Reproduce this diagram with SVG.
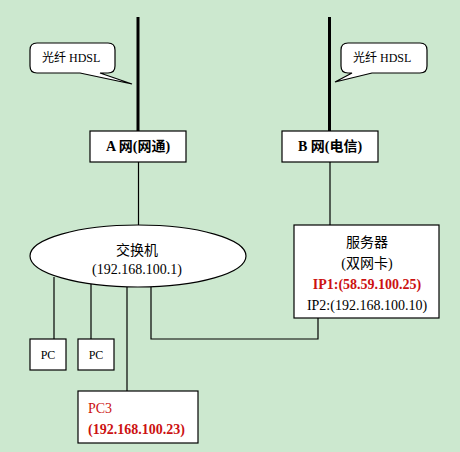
<svg xmlns="http://www.w3.org/2000/svg" width="460" height="452" viewBox="0 0 460 452">
<style>
.bg{fill:#CCE8CF}
.box{fill:#fff;stroke:#000;stroke-width:1.2}
.t{font-family:"Liberation Serif","Noto Sans CJK SC",serif;font-size:14px;fill:#000}
.s{font-size:12px}
.b{font-weight:bold}
.r{fill:#CC1111}
.ln{stroke:#000;stroke-width:1.2;fill:none}
.thick{stroke:#000;stroke-width:3;fill:none}
</style>
<rect class="bg" x="0" y="0" width="460" height="452"/>
<g id="connectors">
<line class="thick" x1="138" y1="17" x2="138" y2="131"/>
<line class="thick" x1="329.5" y1="17" x2="329.5" y2="131"/>
<line class="ln" x1="138.5" y1="162" x2="138.5" y2="225"/>
<line class="ln" x1="330" y1="162" x2="330" y2="225"/>
<line class="ln" x1="54" y1="277" x2="54" y2="339"/>
<line class="ln" x1="91" y1="284" x2="91" y2="339"/>
<line class="ln" x1="127" y1="287" x2="127" y2="391"/>
<polyline class="ln" points="151,287 151,339 318,339 318,318"/>
</g>
<g id="callout-left">
<path class="box" d="M37,43 H108 Q115,43 115,50 V66 Q115,73 108,73 H100 L132,84 L80,73 H37 Q30,73 30,66 V50 Q30,43 37,43 Z"/>
<text class="t s" x="42" y="62">光纤 HDSL</text>
</g>
<g id="callout-right">
<path class="box" d="M348,43 H420 Q427,43 427,50 V66 Q427,73 420,73 H372 L335,82 L352,73 H348 Q341,73 341,66 V50 Q341,43 348,43 Z"/>
<text class="t s" x="353" y="62">光纤 HDSL</text>
</g>
<g id="net-a">
<rect class="box" x="90" y="131" width="96" height="31"/>
<text class="t b" x="138" y="151" text-anchor="middle">A 网(网通)</text>
</g>
<g id="net-b">
<rect class="box" x="282" y="131" width="96" height="31"/>
<text class="t b" x="330" y="151" text-anchor="middle">B 网(电信)</text>
</g>
<g id="switch">
<ellipse class="box" cx="138" cy="256" rx="108" ry="31"/>
<text class="t" x="137" y="255" text-anchor="middle">交换机</text>
<text class="t" x="137" y="274" text-anchor="middle">(192.168.100.1)</text>
</g>
<g id="server">
<rect class="box" x="294" y="225" width="145" height="93"/>
<text class="t" x="367" y="247" text-anchor="middle">服务器</text>
<text class="t" x="367" y="268" text-anchor="middle">(双网卡)</text>
<text class="t b r" x="367" y="289" text-anchor="middle">IP1:(58.59.100.25)</text>
<text class="t" x="367" y="310" text-anchor="middle">IP2:(192.168.100.10)</text>
</g>
<g id="pc1">
<rect class="box" x="30" y="339" width="36" height="31"/>
<text class="t s" x="48" y="359" text-anchor="middle">PC</text>
</g>
<g id="pc2">
<rect class="box" x="78" y="339" width="36" height="31"/>
<text class="t s" x="96" y="359" text-anchor="middle">PC</text>
</g>
<g id="pc3">
<rect class="box" x="78" y="391" width="120" height="52"/>
<text class="t r" x="88" y="413">PC3</text>
<text class="t b r" x="88" y="434">(192.168.100.23)</text>
</g>
</svg>
